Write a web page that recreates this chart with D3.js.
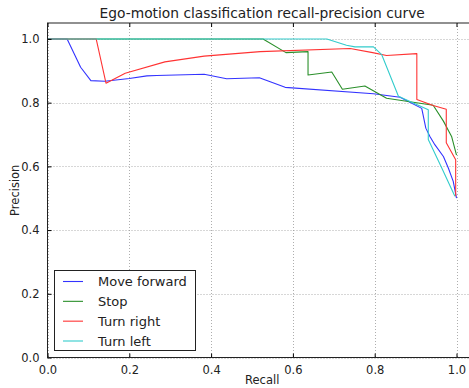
<!DOCTYPE html>
<html>
<head>
<meta charset="utf-8">
<script src="https://cdn.jsdelivr.net/npm/d3@7"></script>
<style>
  body { margin: 0; background: #fff; }
  svg { display: block; font-family: "DejaVu Sans", sans-serif; }
</style>
</head>
<body>
<div id="chart"></div>
<script>
// series (recall, precision)
const seriesNames = ['Move forward', 'Stop', 'Turn right', 'Turn left'];
const seriesColors = ['#3333ff', '#2a8f2a', '#ff3333', '#33cccc'];

const moveRecall = [0, 0.048, 0.081, 0.106, 0.14, 0.2, 0.243, 0.267, 0.383, 0.438, 0.518, 0.581, 0.797, 0.862, 0.915, 0.925, 0.935, 0.947, 0.968, 0.98, 0.992, 1.0];
const movePrecision = [1, 1, 0.911, 0.869, 0.867, 0.876, 0.884, 0.885, 0.889, 0.875, 0.878, 0.848, 0.828, 0.817, 0.782, 0.72, 0.694, 0.668, 0.631, 0.595, 0.553, 0.5];

const stopRecall = [0, 0.527, 0.583, 0.637, 0.637, 0.695, 0.721, 0.776, 0.829, 0.943, 0.968, 0.988, 1.0];
const stopPrecision = [1, 1, 0.957, 0.96, 0.887, 0.896, 0.842, 0.852, 0.814, 0.792, 0.742, 0.694, 0.635];

const rightRecall = [0, 0.119, 0.143, 0.19, 0.287, 0.383, 0.52, 0.74, 0.795, 0.829, 0.903, 0.903, 0.943, 0.975, 0.975, 0.998, 0.998];
const rightPrecision = [1, 1, 0.861, 0.892, 0.928, 0.946, 0.96, 0.97, 0.957, 0.948, 0.954, 0.81, 0.791, 0.779, 0.674, 0.621, 0.506];

const leftRecall = [0, 0.683, 0.731, 0.752, 0.797, 0.817, 0.858, 0.931, 0.931, 0.964, 0.996];
const leftPrecision = [1, 1, 0.98, 0.975, 0.975, 0.951, 0.82, 0.778, 0.684, 0.595, 0.506];

const tickValues = [0, 0.2, 0.4, 0.6, 0.8, 1.0];

const width = 469, height = 388;
const plotLeft = 47.5, plotTop = 23, plotBottom = 357.5;

const svg = d3.select('#chart').append('svg')
  .attr('width', width)
  .attr('height', height);

const x = d3.scaleLinear().domain([0, 1.05]).range([plotLeft, plotLeft + 409 * 1.05]);
const y = d3.scaleLinear().domain([0, 1.05]).range([plotBottom, plotTop]);
const plotRight = x(1.05);

// grid
const grid = svg.append('g')
  .attr('stroke', '#999')
  .attr('stroke-width', 0.8)
  .attr('stroke-dasharray', '1,2');
grid.selectAll('.gx').data(tickValues).enter().append('line')
  .attr('x1', d => Math.round(x(d)) + 0.5).attr('x2', d => Math.round(x(d)) + 0.5)
  .attr('y1', plotTop).attr('y2', plotBottom);
grid.selectAll('.gy').data(tickValues).enter().append('line')
  .attr('y1', d => Math.round(y(d)) + 0.5).attr('y2', d => Math.round(y(d)) + 0.5)
  .attr('x1', plotLeft).attr('x2', plotRight);

// curves
const allSeries = [
  { recall: moveRecall, precision: movePrecision },
  { recall: stopRecall, precision: stopPrecision },
  { recall: rightRecall, precision: rightPrecision },
  { recall: leftRecall, precision: leftPrecision }
];

const line = d3.line()
  .x(d => x(d[0]))
  .y(d => y(d[1]));

svg.append('clipPath').attr('id', 'plot-clip')
  .append('rect')
  .attr('x', plotLeft).attr('y', plotTop)
  .attr('width', plotRight - plotLeft).attr('height', plotBottom - plotTop);

svg.append('g').attr('clip-path', 'url(#plot-clip)')
  .selectAll('.curve')
  .data(allSeries)
  .enter()
  .append('path')
  .attr('class', 'curve')
  .attr('d', d => line(d.recall.map((r, i) => [r, d.precision[i]])))
  .attr('fill', 'none')
  .attr('stroke', (d, i) => seriesColors[i])
  .attr('stroke-width', 1.1)
  .attr('stroke-linejoin', 'round');

// axes, ticks inward
const xAxis = svg.append('g')
  .attr('transform', `translate(0,${plotBottom})`)
  .call(d3.axisBottom(x).tickValues(tickValues).tickFormat(d3.format('.1f')).tickSizeInner(-4).tickSizeOuter(0).tickPadding(8));
const yAxis = svg.append('g')
  .attr('transform', `translate(${plotLeft},0)`)
  .call(d3.axisLeft(y).tickValues(tickValues).tickFormat(d3.format('.1f')).tickSizeInner(-4).tickSizeOuter(0).tickPadding(8));
svg.append('g')
  .attr('transform', `translate(0,${plotTop})`)
  .call(d3.axisTop(x).tickValues(tickValues).tickFormat('').tickSizeInner(-4).tickSizeOuter(0))
  .select('.domain').remove();

[xAxis, yAxis].forEach(a => {
  a.selectAll('text')
    .style('font-family', '"DejaVu Sans", sans-serif')
    .style('font-size', '11.5px')
    .attr('fill', '#222');
  a.select('.domain').remove();
});
svg.selectAll('.tick line').attr('stroke', '#000');

// frame
svg.append('rect')
  .attr('x', plotLeft).attr('y', plotTop)
  .attr('width', plotRight - plotLeft).attr('height', plotBottom - plotTop)
  .attr('fill', 'none')
  .attr('stroke', '#222')
  .attr('stroke-width', 1);

// title and labels
svg.append('text')
  .attr('x', (plotLeft + plotRight) / 2)
  .attr('y', 18)
  .attr('text-anchor', 'middle')
  .style('font-size', '13.8px')
  .attr('fill', '#222')
  .text('Ego-motion classification recall-precision curve');

svg.append('text')
  .attr('x', (plotLeft + plotRight) / 2)
  .attr('y', 384)
  .attr('text-anchor', 'middle')
  .style('font-size', '11.5px')
  .attr('fill', '#222')
  .text('Recall');

svg.append('text')
  .attr('transform', `translate(19,${(plotTop + plotBottom) / 2}) rotate(-90)`)
  .attr('text-anchor', 'middle')
  .style('font-size', '11.5px')
  .attr('fill', '#222')
  .text('Precision');

// legend
const legend = svg.append('g');
legend.append('rect')
  .attr('x', 54.5).attr('y', 270.5)
  .attr('width', 141).attr('height', 80)
  .attr('fill', '#fff')
  .attr('stroke', '#222')
  .attr('stroke-width', 1);

const legendY = d3.scalePoint().domain(seriesNames).range([281.5, 341]);
const items = legend.selectAll('.item').data(seriesNames).enter().append('g');
items.append('line')
  .attr('x1', 63).attr('x2', 83)
  .attr('y1', d => legendY(d)).attr('y2', d => legendY(d))
  .attr('stroke', (d, i) => seriesColors[i])
  .attr('stroke-width', 1.1);
items.append('text')
  .attr('x', 98)
  .attr('y', d => legendY(d) + 4.5)
  .style('font-size', '13px')
  .attr('fill', '#222')
  .text(d => d);
</script>
</body>
</html>
